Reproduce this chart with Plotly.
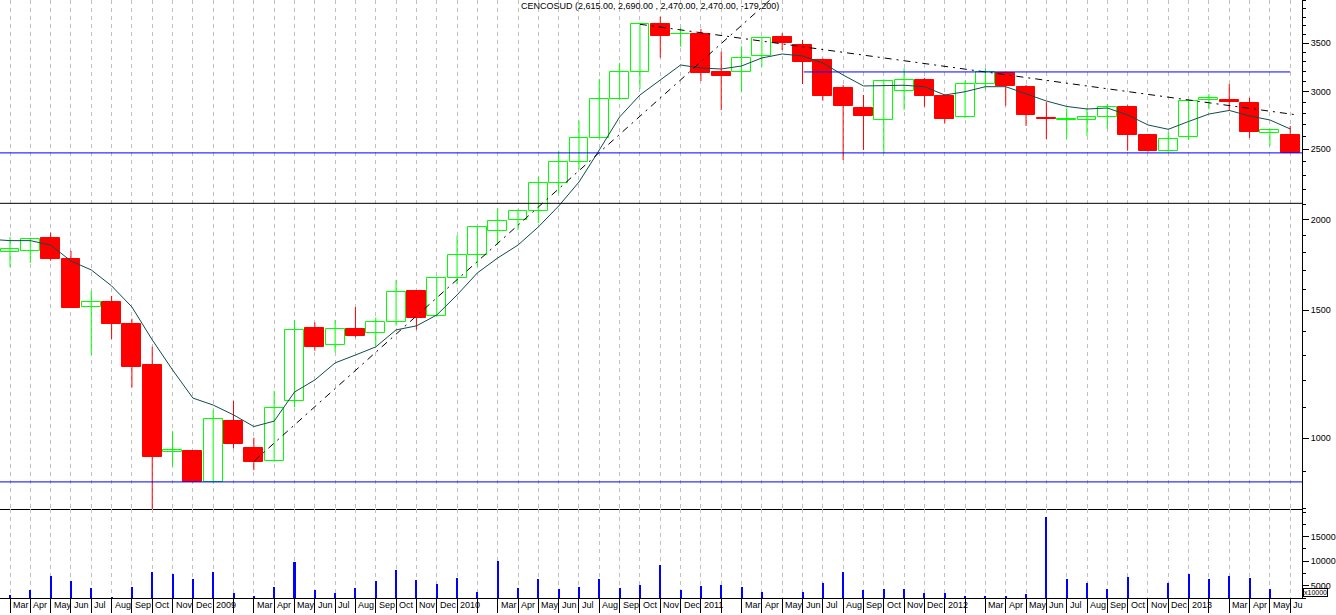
import plotly.graph_objects as go

# ---------------- data (monthly, Mar 2008 .. Jun 2013) ----------------
month_labels = ["Mar", "Apr", "May", "Jun", "Jul", "Aug", "Sep", "Oct", "Nov", "Dec", "2009", "",
                "Mar", "Apr", "May", "Jun", "Jul", "Aug", "Sep", "Oct", "Nov", "Dec", "2010", "",
                "Mar", "Apr", "May", "Jun", "Jul", "Aug", "Sep", "Oct", "Nov", "Dec", "2011", "",
                "Mar", "Apr", "May", "Jun", "Jul", "Aug", "Sep", "Oct", "Nov", "Dec", "2012", "",
                "Mar", "Apr", "May", "Jun", "Jul", "Aug", "Sep", "Oct", "Nov", "Dec", "2013", "",
                "Mar", "Apr", "May", "Ju"]

opens = [1804, 1810, 1886, 1764, 1514, 1540, 1436, 1261, 958, 960,
         869, 1055, 969, 930, 1125, 1418, 1343, 1413, 1394, 1443,
         1594, 1471, 1660, 1785, 1926, 1995, 2052, 2243, 2398, 2587,
         2930, 3190, 3714, 3600, 3602, 3193, 3189, 3362, 3568, 3478,
         3316, 3035, 2848, 2739, 3006, 3113, 2959, 2765, 3070, 3182,
         3044, 2755, 2745, 2744, 2765, 2857, 2612, 2483, 2595, 2924,
         2921, 2896, 2634, 2615]
highs = [1892, 1886, 1918, 1810, 1594, 1569, 1460, 1336, 1022, 962,
         1093, 1125, 1001, 1161, 1454, 1443, 1454, 1515, 1466, 1651,
         1597, 1662, 1900, 1958, 2072, 2065, 2290, 2487, 2736, 3122,
         3285, 3714, 3805, 3674, 3659, 3405, 3463, 3560, 3610, 3534,
         3334, 3064, 2968, 3119, 3230, 3132, 2977, 3106, 3230, 3196,
         3064, 2903, 2845, 2848, 2884, 2873, 2615, 2642, 2918, 2977,
         3073, 2943, 2660, 2690]
lows = [1720, 1742, 1755, 1510, 1301, 1368, 1174, 790, 913, 869,
        869, 968, 903, 928, 1102, 1319, 1312, 1376, 1340, 1428,
        1410, 1468, 1628, 1722, 1844, 1934, 1976, 2173, 2345, 2587,
        2928, 3025, 3341, 3459, 3103, 2830, 2993, 3247, 3423, 3073,
        2915, 2415, 2493, 2467, 2830, 2860, 2713, 2760, 3022, 2869,
        2690, 2581, 2581, 2606, 2665, 2487, 2480, 2480, 2573, 2836,
        2824, 2590, 2525, 2470]
closes = [1821, 1880, 1766, 1512, 1538, 1437, 1254, 942, 963, 869,
          1063, 980, 928, 1099, 1407, 1336, 1412, 1381, 1443, 1587,
          1465, 1660, 1785, 1955, 1988, 2052, 2243, 2398, 2587, 2928,
          3189, 3714, 3582, 3607, 3182, 3155, 3338, 3553, 3497, 3299,
          2961, 2866, 2779, 3103, 3110, 2961, 2753, 3073, 3189, 3054,
          2786, 2748, 2750, 2765, 2854, 2617, 2487, 2579, 2912, 2937,
          2906, 2642, 2656, 2470]
volumes = [3100, 4100, 7000, 6000, 4500, 2700, 4750, 7800, 7400, 6400,
           7800, 3500, 2900, 4750, 9850, 4100, 3500, 4500, 6000, 8200,
           6200, 5350, 6600, 3700, 10050, 4500, 6400, 4350, 4750, 6400,
           4500, 5150, 9250, 4100, 4950, 5150, 4750, 3700, 0, 3700,
           5550, 7800, 4100, 4350, 4350, 3500, 3500, 2900, 2900, 2900,
           3300, 19000, 6400, 5550, 4350, 6800, 0, 5550, 7400, 6400,
           7000, 6600, 4350, 0]
# moving average, Feb 2008 .. Jun 2013
ma_start = -1
ma_values = [1878, 1870, 1870, 1844, 1753, 1704, 1620, 1515, 1365, 1241, 1135,
             1110, 1076, 1037, 1055, 1157, 1202, 1269, 1301, 1335, 1409,
             1427, 1477, 1574, 1688, 1770, 1844, 1953, 2087, 2252, 2493,
             2768, 2968, 3113, 3264, 3233, 3223, 3254, 3338, 3380, 3359,
             3285, 3162, 3054, 3054, 3061, 3047, 2968, 2999, 3047, 3047,
             2977, 2912, 2862, 2839, 2848, 2786, 2699, 2662, 2729, 2794,
             2826, 2777, 2742, 2665]

rising_trend_x = [12.02, 37.6]
rising_trend_y = [930, 4058]
falling_trend_x = [31.0, 63.34]
falling_trend_y = [3714, 2786]
support_low = 870
support_mid = 2470
black_level = 2105
resistance_level = 3193
resistance_x = [39.06, 63.0]

price_ticks = [1000, 1500, 2000, 2500, 3000, 3500]
price_minor_ticks = [v for v in range(800, 4100, 100) if v not in price_ticks]
volume_ticks = [5000, 10000, 15000]
title_text = "CENCOSUD (2,615.00, 2,690.00 , 2,470.00, 2,470.00, -179.200)"

# ---------------- geometry ----------------
XMIN, XMAX = -0.492, 63.58
PRICE_DOMAIN = [89 / 598, 1.0]
VOL_DOMAIN = [0.0, 89 / 598]
GREEN = "#00FF00"
RED = "#FF0000"
BLUE = "#0000FF"
FONT = "Liberation Sans"

n = len(opens)
idx = list(range(n))
up = [i for i in idx if closes[i] >= opens[i]]
dn = [i for i in idx if closes[i] < opens[i]]

fig = go.Figure()

# wicks
def wick_xy(ids):
    xs, ys = [], []
    for i in ids:
        xs += [i, i, None]
        ys += [lows[i], highs[i], None]
    return xs, ys

for ids, col in ((up, GREEN), (dn, RED)):
    wx, wy = wick_xy(ids)
    fig.add_trace(go.Scatter(x=wx, y=wy, mode="lines", line=dict(color=col, width=1),
                             xaxis="x", yaxis="y", hoverinfo="skip", showlegend=False))

# bodies
fig.add_trace(go.Bar(x=up, base=[opens[i] for i in up], y=[closes[i] - opens[i] for i in up],
                     width=0.93, marker=dict(color="white", line=dict(color=GREEN, width=1)),
                     xaxis="x", yaxis="y", showlegend=False))
fig.add_trace(go.Bar(x=dn, base=[closes[i] for i in dn], y=[opens[i] - closes[i] for i in dn],
                     width=0.93, marker=dict(color=RED, line=dict(color=RED, width=1)),
                     xaxis="x", yaxis="y", showlegend=False))

# moving average
fig.add_trace(go.Scatter(x=list(range(ma_start, ma_start + len(ma_values))), y=ma_values,
                         mode="lines", line=dict(color="#0F4C4C", width=1),
                         xaxis="x", yaxis="y", showlegend=False))

# trend lines
for tx, ty in ((rising_trend_x, rising_trend_y), (falling_trend_x, falling_trend_y)):
    fig.add_trace(go.Scatter(x=tx, y=ty, mode="lines",
                             line=dict(color="black", width=1, dash="7px,5px,2px,5px"),
                             xaxis="x", yaxis="y", showlegend=False))

# horizontal levels
for lvl, col in ((support_low, BLUE), (support_mid, BLUE), (black_level, "black")):
    fig.add_trace(go.Scatter(x=[XMIN, XMAX], y=[lvl, lvl], mode="lines",
                             line=dict(color=col, width=1), xaxis="x", yaxis="y",
                             showlegend=False))
fig.add_trace(go.Scatter(x=resistance_x, y=[resistance_level, resistance_level], mode="lines",
                         line=dict(color=BLUE, width=1), xaxis="x", yaxis="y", showlegend=False))

# volume
fig.add_trace(go.Bar(x=idx, y=volumes, width=0.1, marker=dict(color=BLUE, line=dict(width=0)),
                     xaxis="x2", yaxis="y2", showlegend=False))

grid = dict(showgrid=True, gridcolor="#C0C0C0", gridwidth=1, griddash="4px,4px")

annotations = []
for i, lab in enumerate(month_labels):
    if lab:
        annotations.append(dict(x=i, xref="x2", y=0, yref="paper", text=lab, showarrow=False,
                                xanchor="left", yanchor="top", xshift=1, yshift=0,
                                font=dict(family=FONT, size=9, color="black")))
annotations.append(dict(x=650 / 1302, xref="paper", y=1, yref="paper", text=title_text,
                        showarrow=False, xanchor="center", yanchor="top", yshift=1,
                        font=dict(family=FONT, size=9, color="black")))
annotations.append(dict(x=1, xref="paper", y=0, yref="paper", text="x10000", showarrow=False,
                        xanchor="left", yanchor="bottom", xshift=1, yshift=1,
                        bordercolor="black", borderwidth=1, borderpad=0, bgcolor="white",
                        font=dict(family=FONT, size=7, color="black")))

fig.update_layout(
    width=1336, height=615,
    margin=dict(l=0, r=34, t=0, b=17),
    paper_bgcolor="white", plot_bgcolor="white",
    barmode="overlay", bargap=0,
    showlegend=False,
    hovermode=False,
    font=dict(family=FONT, size=9, color="black"),
    xaxis=dict(domain=[0, 1], anchor="y", range=[XMIN, XMAX], tickmode="array", tickvals=idx,
               showticklabels=False, ticks="", showline=True, linecolor="black", linewidth=1,
               zeroline=False, **grid),
    xaxis2=dict(domain=[0, 1], anchor="y2", range=[XMIN, XMAX], matches="x", tickmode="array",
                tickvals=idx, showticklabels=False, ticks="outside", ticklen=14, tickwidth=1,
                tickcolor="black", showline=True, linecolor="black", linewidth=1,
                zeroline=False, **grid),
    yaxis=dict(domain=PRICE_DOMAIN, anchor="x", type="log", range=[2.9022, 3.6033], side="right",
               tickmode="array", tickvals=price_ticks, ticktext=[str(v) for v in price_ticks],
               ticks="outside", ticklen=6, tickcolor="black", showline=True, linecolor="black",
               linewidth=1, showgrid=False, zeroline=False,
               minor=dict(tickmode="array", tickvals=price_minor_ticks, ticks="outside",
                          ticklen=3, tickcolor="black", showgrid=False),
               tickfont=dict(family=FONT, size=9, color="black")),
    yaxis2=dict(domain=VOL_DOMAIN, anchor="x2", range=[2500, 20656], side="right",
                tickmode="array", tickvals=volume_ticks, ticktext=[str(v) for v in volume_ticks],
                ticks="outside", ticklen=6, tickcolor="black", showline=True, linecolor="black",
                linewidth=1, showgrid=False, zeroline=False,
                minor=dict(tickmode="linear", tick0=0, dtick=2500, ticks="outside", ticklen=3,
                           tickcolor="black", showgrid=False),
                tickfont=dict(family=FONT, size=9, color="black")),
    annotations=annotations,
)

fig.write_html(
    "out.html",
    config={"displayModeBar": False},
    post_script="document.body.style.margin='0px';document.body.style.padding='0px';"
                "document.body.style.overflow='hidden';",
)
